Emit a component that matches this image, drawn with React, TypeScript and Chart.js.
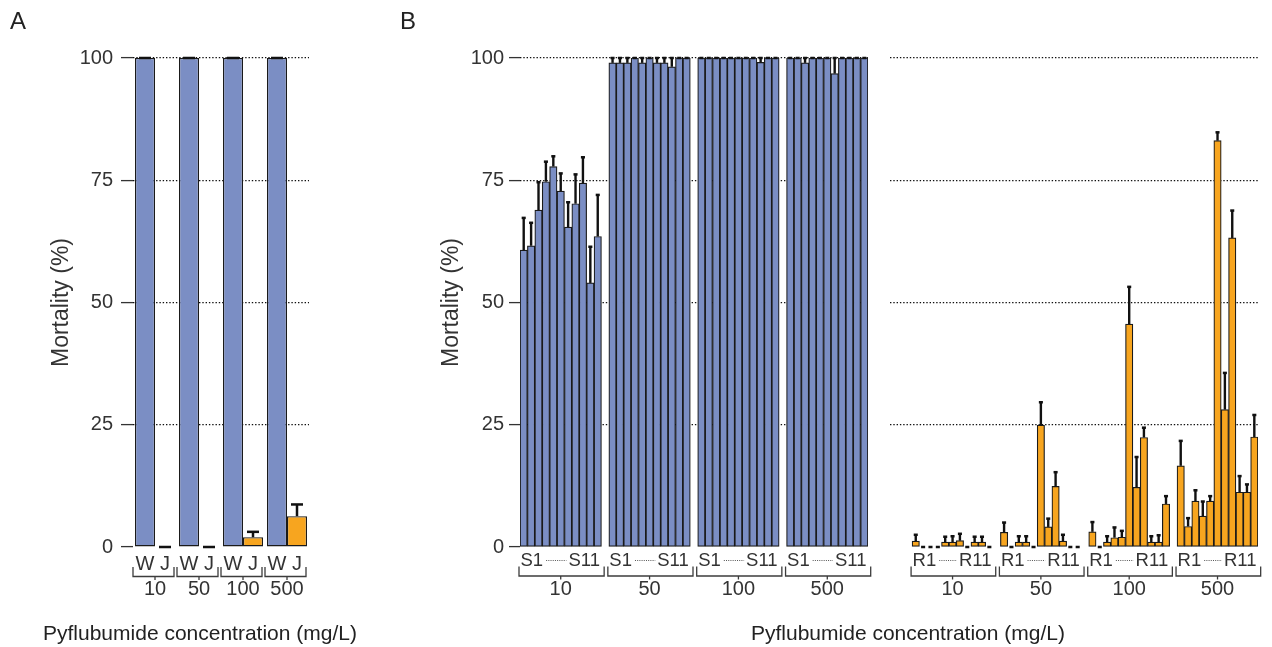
import React, { useEffect, useRef } from "react";
import { Chart, registerables } from "chart.js";

Chart.register(...registerables);

const FONT = "'Liberation Sans', Arial, Helvetica, sans-serif";
const TEXT = "#333333";
const BRACKET = "#3c3c3c";
const BAR_BORDER = "#1a1a1a";
const BLUE = "#7B8EC4";
const ORANGE = "#F7A51F";
const ERR = "#111111";
const PAGE_W = 1272;
const PAGE_H = 647;

// ---------------- data ----------------
const concentrations = ["10", "50", "100", "500"];
const yTicks = [0, 25, 50, 75, 100];

// Panel A
const strainsA = ["W", "J"];
const mortalityW = [100, 100, 100, 100];
const errorW = [0, 0, 0, 0];
const mortalityJ = [0, 0, 2.0, 6.3];
const errorJ = [0, 0, 1.1, 2.4];

// Panel B — susceptible lines S1..S11
const mortalityS10 = [60.7, 61.6, 68.9, 74.7, 77.8, 72.8, 65.4, 70.2, 74.4, 54.0, 63.5];
const errorS10 = [6.6, 4.7, 5.7, 4.1, 2.1, 3.6, 5.1, 6.0, 5.3, 7.4, 8.5];
const mortalityS50 = [99.0, 99.0, 99.0, 100, 99.0, 100, 99.0, 99.0, 98.2, 100, 100];
const errorS50 = [1.0, 1.0, 1.0, 0, 1.0, 0, 1.0, 1.0, 1.8, 0, 0];
const mortalityS100 = [100, 100, 100, 100, 100, 100, 100, 100, 99.1, 100, 100];
const errorS100 = [0, 0, 0, 0, 0, 0, 0, 0, 0.9, 0, 0];
const mortalityS500 = [100, 100, 99.0, 100, 100, 100, 96.8, 100, 100, 100, 100];
const errorS500 = [0, 0, 1.0, 0, 0, 0, 3.2, 0, 0, 0, 0];

// Panel B — resistant lines R1..R11
const mortalityR10 = [1.2, 0, 0, 0, 1.0, 1.0, 1.3, 0, 1.0, 1.0, 0];
const errorR10 = [1.3, 0, 0, 0, 1.1, 1.2, 1.4, 0, 1.1, 1.1, 0];
const mortalityR50 = [3.0, 0, 1.0, 1.0, 0, 24.9, 4.1, 12.4, 1.2, 0, 0];
const errorR50 = [2.0, 0, 1.2, 1.2, 0, 4.7, 1.7, 2.9, 1.3, 0, 0];
const mortalityR100 = [3.1, 0, 1.0, 1.9, 2.0, 45.6, 12.2, 22.4, 1.0, 1.0, 8.8];
const errorR100 = [2.0, 0, 1.2, 2.1, 1.3, 7.6, 6.2, 2.0, 1.2, 1.4, 1.6];
const mortalityR500 = [16.6, 4.2, 9.4, 6.3, 9.4, 83.1, 28.1, 63.2, 11.2, 11.2, 22.5];
const errorR500 = [5.1, 1.7, 2.2, 3.0, 1.0, 1.7, 7.5, 5.6, 3.3, 1.6, 4.5];

const LINES_PER_GROUP = 11;

// ---------------- helpers ----------------
function buildSlots(groups: number[][], errs: number[][], lead: number) {
  const values: (number | null)[] = [];
  const errors: number[] = [];
  const labels: string[] = [];
  const starts: number[] = [];
  for (let i = 0; i < lead; i++) {
    values.push(null);
    errors.push(0);
    labels.push("");
  }
  groups.forEach((g, gi) => {
    starts.push(values.length);
    g.forEach((v, k) => {
      values.push(v);
      errors.push(errs[gi][k]);
      labels.push(`${concentrations[gi]}-${k + 1}`);
    });
    if (gi < groups.length - 1) {
      values.push(null);
      errors.push(0);
      labels.push("");
    }
  });
  return { values, errors, labels, starts };
}

function makeErrorBars(capFrac: number, capMin: number, capH: number, stemW: number) {
  return {
    id: "errorBars",
    afterDatasetsDraw(chart: any) {
      const ctx = chart.ctx;
      const ys = chart.scales.y;
      ctx.save();
      chart.data.datasets.forEach((ds: any, di: number) => {
        const errs: number[] = ds.errors;
        if (!errs) return;
        const meta = chart.getDatasetMeta(di);
        meta.data.forEach((el: any, i: number) => {
          const v = ds.data[i];
          if (v === null || v === undefined) return;
          const e = errs[i] || 0;
          const x = el.x;
          const yv = ys.getPixelForValue(v);
          const yt = ys.getPixelForValue(v + e);
          ctx.fillStyle = ERR;
          ctx.strokeStyle = ERR;
          if (e > 0) {
            ctx.lineWidth = stemW;
            ctx.beginPath();
            ctx.moveTo(x, yv);
            ctx.lineTo(x, yt);
            ctx.stroke();
          }
          const cw = Math.max(capMin, el.width * capFrac);
          ctx.fillRect(x - cw / 2, yt - capH / 2, cw, capH);
        });
      });
      ctx.restore();
    },
  };
}

function drawBracket(ctx: any, left: number, right: number, center: number, y: number, yTop: number, yTick: number) {
  ctx.strokeStyle = BRACKET;
  ctx.lineWidth = 1.3;
  ctx.beginPath();
  ctx.moveTo(left, yTop);
  ctx.lineTo(left, y);
  ctx.lineTo(right, y);
  ctx.lineTo(right, yTop);
  ctx.moveTo(center, y);
  ctx.lineTo(center, yTick);
  ctx.stroke();
}

function makeGroupAxis(prefix: string, starts: number[]) {
  return {
    id: "groupAxis",
    afterDraw(chart: any) {
      const ctx = chart.ctx;
      const xs = chart.scales.x;
      const n = chart.data.labels.length;
      const slot = (xs.right - xs.left) / n;
      const labelY = 561;
      ctx.save();
      starts.forEach((s) => {
        const left = xs.getPixelForValue(s) - slot / 2;
        const right = xs.getPixelForValue(s + LINES_PER_GROUP - 1) + slot / 2;
        const center = (left + right) / 2;
        ctx.font = `18.5px ${FONT}`;
        ctx.fillStyle = TEXT;
        ctx.textBaseline = "middle";
        const first = `${prefix}1`;
        const last = `${prefix}${LINES_PER_GROUP}`;
        ctx.textAlign = "left";
        ctx.fillText(first, left + 0.5, labelY);
        const w1 = ctx.measureText(first).width;
        ctx.textAlign = "right";
        ctx.fillText(last, right - 1.5, labelY);
        const w2 = ctx.measureText(last).width;
        ctx.strokeStyle = "#555";
        ctx.lineWidth = 1;
        ctx.setLineDash([1, 1.2]);
        ctx.beginPath();
        ctx.moveTo(left + 0.5 + w1 + 3, labelY - 0.5);
        ctx.lineTo(right - 1.5 - w2 - 2, labelY - 0.5);
        ctx.stroke();
        ctx.setLineDash([]);
        drawBracket(ctx, left - 1, right + slot / 2 - 1, center, 576, 566.5, 579.5);
      });
      ctx.restore();
    },
  };
}

const strainAxisA = {
  id: "strainAxis",
  afterDraw(chart: any) {
    const ctx = chart.ctx;
    const xs = chart.scales.x;
    const m0 = chart.getDatasetMeta(0);
    const m1 = chart.getDatasetMeta(1);
    ctx.save();
    concentrations.forEach((_c, i) => {
      const a = m0.data[i];
      const b = m1.data[i];
      ctx.font = `20px ${FONT}`;
      ctx.fillStyle = TEXT;
      ctx.textBaseline = "middle";
      ctx.textAlign = "center";
      ctx.fillText(strainsA[0], a.x, 564);
      ctx.fillText(strainsA[1], b.x, 564);
      const left = a.x - a.width / 2 - 2;
      const right = b.x + b.width / 2 - 1;
      drawBracket(ctx, left, right, xs.getPixelForValue(i), 576.5, 567, 580);
    });
    ctx.restore();
  },
};

function yScale(opts: { labels: boolean; width: number; tickLength: number; padding: number }) {
  const gridColor = (c: any) => (c.tick && c.tick.value === 0 ? "rgba(0,0,0,0)" : "#111");
  return {
    min: 0,
    max: 100,
    afterBuildTicks: (s: any) => {
      s.ticks = yTicks.map((v) => ({ value: v }));
    },
    ticks: {
      display: opts.labels,
      color: TEXT,
      font: { family: FONT, size: 20 },
      padding: opts.padding,
    },
    grid: {
      color: gridColor,
      lineWidth: 1.2,
      drawTicks: opts.labels,
      tickLength: opts.tickLength,
      tickColor: "#333",
      tickWidth: 1.3,
    },
    border: { display: false, dash: [1.4, 1.9] },
    title: {
      display: opts.labels,
      text: "Mortality (%)",
      color: TEXT,
      font: { family: FONT, size: 23 },
      padding: { top: 4, bottom: 0 },
    },
    afterFit: (s: any) => {
      s.width = opts.width;
    },
  };
}

function xScale(callback: (value: any, index: number) => string) {
  return {
    offset: true,
    ticks: {
      autoSkip: false,
      maxRotation: 0,
      minRotation: 0,
      color: TEXT,
      font: { family: FONT, size: 20 },
      padding: 30,
      callback,
    },
    grid: { display: false, drawTicks: false },
    border: { display: false },
    afterFit: (s: any) => {
      s.height = 100;
      s.paddingLeft = 0;
      s.paddingRight = 0;
    },
  };
}

function baseOptions(padding: any, scales: any) {
  return {
    responsive: false,
    animation: false,
    events: [],
    layout: { padding },
    plugins: { legend: { display: false }, tooltip: { enabled: false } },
    scales,
  };
}

export default function App() {
  const refA = useRef<HTMLCanvasElement>(null);
  const refS = useRef<HTMLCanvasElement>(null);
  const refR = useRef<HTMLCanvasElement>(null);

  useEffect(() => {
    Chart.defaults.font.family = FONT;
    const charts: Chart[] = [];

    // ---- Panel A ----
    charts.push(
      new Chart(refA.current as HTMLCanvasElement, {
        type: "bar",
        data: {
          labels: concentrations,
          datasets: [
            {
              label: strainsA[0],
              data: mortalityW,
              errors: errorW,
              backgroundColor: BLUE,
              borderColor: BAR_BORDER,
              borderWidth: 1.3,
              borderSkipped: false,
              categoryPercentage: 40 / 44,
              barPercentage: 1,
            } as any,
            {
              label: strainsA[1],
              data: mortalityJ,
              errors: errorJ,
              backgroundColor: ORANGE,
              borderColor: BAR_BORDER,
              borderWidth: 1.3,
              borderSkipped: false,
              categoryPercentage: 40 / 44,
              barPercentage: 1,
            } as any,
          ],
        },
        options: baseOptions(
          { left: 44, right: PAGE_W - 309, top: 58, bottom: 0 },
          {
            x: xScale((_v, i) => concentrations[i]),
            y: yScale({ labels: true, width: 89, tickLength: 12, padding: 8 }),
          }
        ) as any,
        plugins: [makeErrorBars(0.6, 3, 2.5, 2.5), strainAxisA],
      })
    );

    // ---- Panel B: S lines ----
    const sSlots = buildSlots(
      [mortalityS10, mortalityS50, mortalityS100, mortalityS500],
      [errorS10, errorS50, errorS100, errorS500],
      0
    );
    const sCenters = sSlots.starts.map((s) => s + 5);
    charts.push(
      new Chart(refS.current as HTMLCanvasElement, {
        type: "bar",
        data: {
          labels: sSlots.labels,
          datasets: [
            {
              label: "S",
              data: sSlots.values,
              errors: sSlots.errors,
              backgroundColor: BLUE,
              borderColor: BAR_BORDER,
              borderWidth: 1.2,
              borderSkipped: false,
              categoryPercentage: 1,
              barPercentage: 1,
            } as any,
          ],
        },
        options: baseOptions(
          { left: 434, right: PAGE_W - 868, top: 58, bottom: 0 },
          {
            x: xScale((_v, i) => {
              const g = sCenters.indexOf(i);
              return g >= 0 ? concentrations[g] : "";
            }),
            y: yScale({ labels: true, width: 86, tickLength: 11, padding: 5 }),
          }
        ) as any,
        plugins: [makeErrorBars(0.55, 3.5, 2.5, 2.4), makeGroupAxis("S", sSlots.starts)],
      })
    );

    // ---- Panel B: R lines ----
    const rSlots = buildSlots(
      [mortalityR10, mortalityR50, mortalityR100, mortalityR500],
      [errorR10, errorR50, errorR100, errorR500],
      3
    );
    const rCenters = rSlots.starts.map((s) => s + 5);
    charts.push(
      new Chart(refR.current as HTMLCanvasElement, {
        type: "bar",
        data: {
          labels: rSlots.labels,
          datasets: [
            {
              label: "R",
              data: rSlots.values,
              errors: rSlots.errors,
              backgroundColor: ORANGE,
              borderColor: BAR_BORDER,
              borderWidth: 1.2,
              borderSkipped: false,
              categoryPercentage: 1,
              barPercentage: 1,
            } as any,
          ],
        },
        options: baseOptions(
          { left: 890, right: PAGE_W - 1258, top: 58, bottom: 0 },
          {
            x: xScale((_v, i) => {
              const g = rCenters.indexOf(i);
              return g >= 0 ? concentrations[g] : "";
            }),
            y: yScale({ labels: false, width: 0, tickLength: 0, padding: 0 }),
          }
        ) as any,
        plugins: [makeErrorBars(0.55, 3.5, 2.5, 2.4), makeGroupAxis("R", rSlots.starts)],
      })
    );

    return () => {
      charts.forEach((c) => c.destroy());
    };
  }, []);

  const canvasStyle: React.CSSProperties = {
    position: "absolute",
    left: 0,
    top: 0,
    width: PAGE_W,
    height: PAGE_H,
  };
  const textBase: React.CSSProperties = {
    position: "absolute",
    fontFamily: FONT,
    color: "#222",
    whiteSpace: "nowrap",
  };

  return (
    <div
      style={{
        position: "absolute",
        left: 0,
        top: 0,
        width: PAGE_W,
        height: PAGE_H,
        background: "#fff",
        overflow: "hidden",
      }}
    >
      <canvas ref={refA} width={PAGE_W} height={PAGE_H} style={canvasStyle} />
      <canvas ref={refS} width={PAGE_W} height={PAGE_H} style={canvasStyle} />
      <canvas ref={refR} width={PAGE_W} height={PAGE_H} style={canvasStyle} />
      <div style={{ ...textBase, left: 10, top: 9, fontSize: 24, lineHeight: "24px" }}>A</div>
      <div style={{ ...textBase, left: 400, top: 9, fontSize: 24, lineHeight: "24px" }}>B</div>
      <div
        style={{
          ...textBase,
          left: 200 - 250,
          width: 500,
          textAlign: "center",
          top: 621,
          fontSize: 21,
          lineHeight: "24px",
        }}
      >
        Pyflubumide concentration (mg/L)
      </div>
      <div
        style={{
          ...textBase,
          left: 908 - 250,
          width: 500,
          textAlign: "center",
          top: 621,
          fontSize: 21,
          lineHeight: "24px",
        }}
      >
        Pyflubumide concentration (mg/L)
      </div>
    </div>
  );
}
